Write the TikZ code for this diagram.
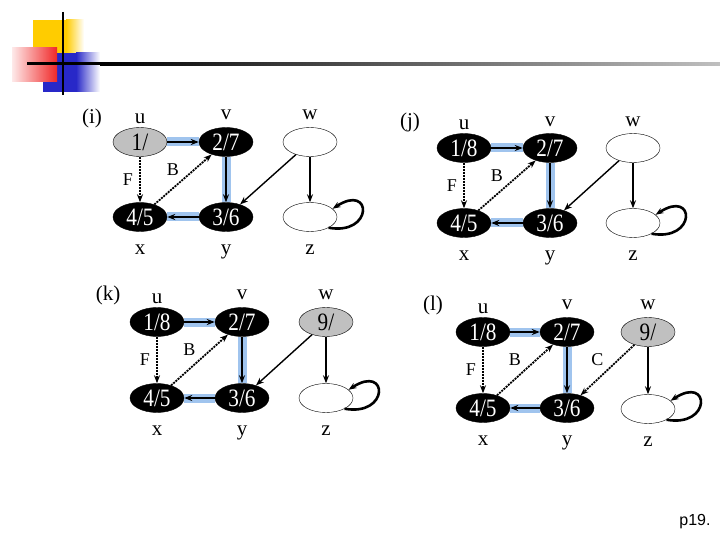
\documentclass[tikz,border=0pt]{standalone}
\usepackage{fontspec}
\setmainfont{Liberation Serif}
\newfontfamily\slidefont{Liberation Sans}
\newfontfamily\narrowfont[FakeStretch=0.85]{Liberation Serif}
\usetikzlibrary{arrows.meta,positioning,shapes.geometric}
\definecolor{treeblue}{RGB}{160,196,238}
\definecolor{greynode}{RGB}{192,192,192}
\definecolor{logoyellow}{RGB}{255,204,0}
\definecolor{logored}{RGB}{240,40,40}
\definecolor{logoblue}{RGB}{40,40,200}

\begin{document}
\begin{tikzpicture}[x=1pt, y=1pt,
    vx/.style={ellipse, draw, minimum width=54pt, minimum height=29pt, inner sep=0pt, font=\narrowfont\fontsize{25}{25}\selectfont},
    done/.style={vx, fill=black, text=white},
    seen/.style={vx, fill=greynode},
    fresh/.style={vx, fill=white},
    nm/.style={font=\fontsize{21}{21}\selectfont},
    elbl/.style={font=\fontsize{18}{18}\selectfont},
    >={Stealth[length=8pt,width=6pt]},
    plain/.style={->, line width=1.4pt},
    tree/.style={->, line width=1.8pt, preaction={draw=treeblue, line width=9pt, -}},
    nontree/.style={->, line width=1.8pt, dash pattern=on 2pt off 1pt},
    selfloop/.style={->, line width=2.6pt}
]
\useasboundingbox (0,0) rectangle (720,-540);

% slide header
\fill[logoyellow] (33,-20) rectangle (66,-53);
\shade[left color=logoyellow, right color=white] (66,-20) rectangle (84,-53);
\fill[logoblue] (43,-53) rectangle (76,-92);
\shade[left color=logoblue, right color=white] (76,-53) rectangle (100,-92);
\shade[left color=logored!10, right color=logored] (12,-48) rectangle (57,-82);
\draw[line width=2pt] (63,-12) -- (63,-95);
\fill[black] (27,-62.5) rectangle (100,-65.5);
\shade[left color=black, right color=black!25] (100,-62.5) rectangle (720,-65.5);

% (i)
\begin{scope}[shift={(140,-142)}]
\node[seen] (iu) at (0,0) {1/};
\node[done] (iv) at (86,0) {2/7};
\node[fresh] (iw) at (170,0) {};
\node[done] (ix) at (0,-75) {4/5};
\node[done] (iy) at (86,-75) {3/6};
\node[fresh] (iz) at (170,-75) {};
\node[nm, above=0pt of iu] (iul) {u};
\node[nm, above=4pt of iv] (ivl) {v};
\node[nm, above=4pt of iw] (iwl) {w};
\node[nm, below=10pt of ix] (ixl) {x};
\node[nm, below=10pt of iy] (iyl) {y};
\node[nm, below=10pt of iz] (izl) {z};
\node[nm] (itag) at (-48,24) {(i)};
\draw[tree] (iu) -- (iv);
\draw[tree] (iv) -- (iy);
\draw[tree] (iy) -- (ix);
\draw[nontree] (iu) -- node[elbl, left=3pt] {F} (ix);
\draw[nontree] (ix) -- node[elbl, above left=0pt] {B} (iv);
\draw[plain] (iw) -- (iy);
\draw[plain] (iw) -- (iz);
\draw[selfloop] (iz.-30) .. controls +(45,-8) and +(40,26) .. (iz.20);
\end{scope}

% (j)
\begin{scope}[shift={(464,-148)}]
\node[done] (ju) at (0,0) {1/8};
\node[done] (jv) at (86,0) {2/7};
\node[fresh] (jw) at (169,0) {};
\node[done] (jx) at (0,-75) {4/5};
\node[done] (jy) at (86,-75) {3/6};
\node[fresh] (jz) at (169,-75) {};
\node[nm, above=0pt of ju] (jul) {u};
\node[nm, above=3pt of jv] (jvl) {v};
\node[nm, above=3pt of jw] (jwl) {w};
\node[nm, below=10pt of jx] (jxl) {x};
\node[nm, below=10pt of jy] (jyl) {y};
\node[nm, below=10pt of jz] (jzl) {z};
\node[nm] (jtag) at (-54,26) {(j)};
\draw[tree] (ju) -- (jv);
\draw[tree] (jv) -- (jy);
\draw[tree] (jy) -- (jx);
\draw[nontree] (ju) -- node[elbl, left=3pt] {F} (jx);
\draw[nontree] (jx) -- node[elbl, above left=0pt] {B} (jv);
\draw[plain] (jw) -- (jy);
\draw[plain] (jw) -- (jz);
\draw[selfloop] (jz.-30) .. controls +(45,-8) and +(40,26) .. (jz.20);
\end{scope}

% (k)
\begin{scope}[shift={(157,-322)}]
\node[done] (ku) at (0,0) {1/8};
\node[done] (kv) at (85,0) {2/7};
\node[seen] (kw) at (169,0) {9/};
\node[done] (kx) at (0,-76) {4/5};
\node[done] (ky) at (85,-76) {3/6};
\node[fresh] (kz) at (169,-76) {};
\node[nm, above=0pt of ku] (kul) {u};
\node[nm, above=4pt of kv] (kvl) {v};
\node[nm, above=4pt of kw] (kwl) {w};
\node[nm, below=10pt of kx] (kxl) {x};
\node[nm, below=10pt of ky] (kyl) {y};
\node[nm, below=10pt of kz] (kzl) {z};
\node[nm] (ktag) at (-49,27) {(k)};
\draw[tree] (ku) -- (kv);
\draw[tree] (kv) -- (ky);
\draw[tree] (ky) -- (kx);
\draw[nontree] (ku) -- node[elbl, left=3pt] {F} (kx);
\draw[nontree] (kx) -- node[elbl, above left=0pt] {B} (kv);
\draw[plain] (kw) -- (ky);
\draw[plain] (kw) -- (kz);
\draw[selfloop] (kz.-30) .. controls +(45,-8) and +(40,26) .. (kz.20);
\end{scope}

% (l)
\begin{scope}[shift={(483,-332)}]
\node[done] (lu) at (0,0) {1/8};
\node[done] (lv) at (84,0) {2/7};
\node[seen] (lw) at (165,0) {9/};
\node[done] (lx) at (0,-76) {4/5};
\node[done] (ly) at (84,-76) {3/6};
\node[fresh] (lz) at (165,-77) {};
\node[nm, above=0pt of lu] (lul) {u};
\node[nm, above=4pt of lv] (lvl) {v};
\node[nm, above=4pt of lw] (lwl) {w};
\node[nm, below=10pt of lx] (lxl) {x};
\node[nm, below=10pt of ly] (lyl) {y};
\node[nm, below=10pt of lz] (lzl) {z};
\node[nm] (ltag) at (-50,27) {(l)};
\draw[tree] (lu) -- (lv);
\draw[tree] (lv) -- (ly);
\draw[tree] (ly) -- (lx);
\draw[nontree] (lu) -- node[elbl, left=3pt] {F} (lx);
\draw[nontree] (lx) -- node[elbl, above left=0pt] {B} (lv);
\draw[nontree] (lw) -- node[elbl, above left=0pt] {C} (ly);
\draw[plain] (lw) -- (lz);
\draw[selfloop] (lz.-30) .. controls +(45,-8) and +(40,26) .. (lz.20);
\end{scope}

\node[font=\slidefont\fontsize{16}{16}\selectfont] (pg) at (695,-522) {p19.};
\end{tikzpicture}
\end{document}
